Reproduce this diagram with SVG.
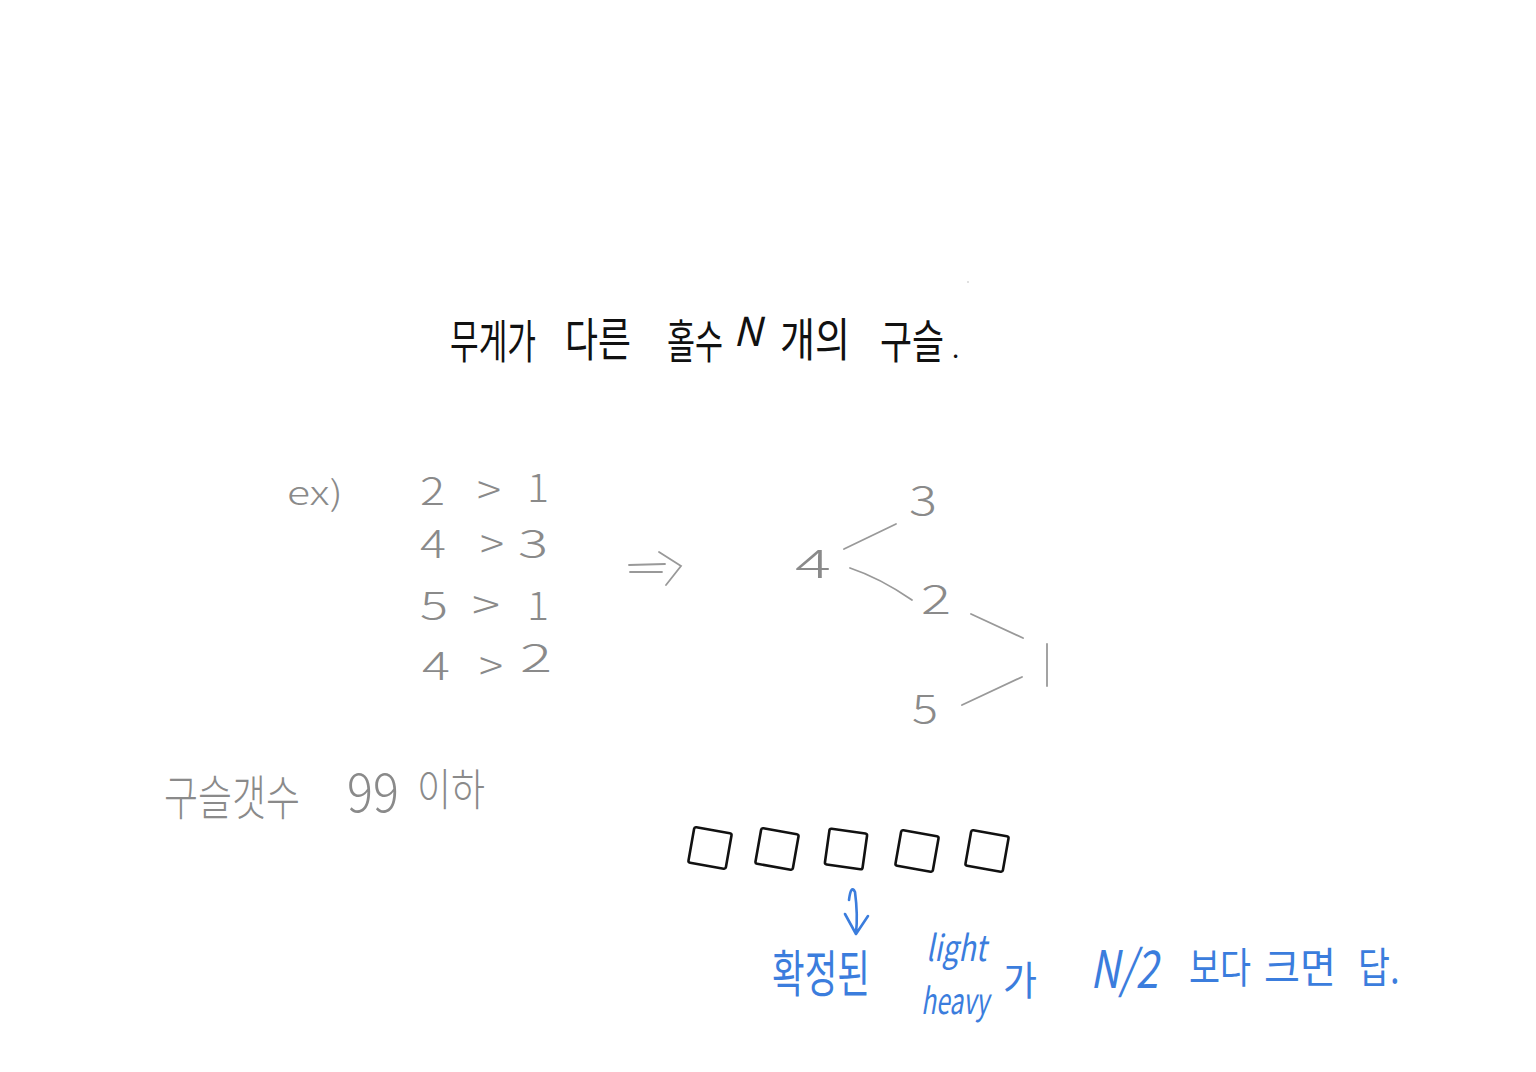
<svg xmlns="http://www.w3.org/2000/svg" width="1536" height="1072" viewBox="0 0 1536 1072">
<style>
.t{font-family:"Noto Sans CJK KR","Noto Sans",sans-serif;}
.ink{fill:#111;}
.pen{fill:#8a8a8a;font-weight:300;}
.blue{fill:#3b7ddd;}
.gt{font-size:42px;}
.it{font-style:italic;}
.ln{fill:none;stroke:#999;stroke-width:1.8;stroke-linecap:round;}
.bx{fill:none;stroke:#111;stroke-width:2.6;stroke-linejoin:round;}
.bl{fill:none;stroke:#3b7ddd;stroke-width:2.6;stroke-linecap:round;stroke-linejoin:round;}
</style>
<rect width="1536" height="1072" fill="#fff"/>
<circle cx="968" cy="282" r="0.8" fill="#bbb"/>
<g id="title" class="t ink" font-size="46">
<text transform="translate(450 358) scale(0.623 1)" textLength="138" lengthAdjust="spacingAndGlyphs">무게가</text>
<text transform="translate(565 356) scale(0.717 1)" textLength="92" lengthAdjust="spacingAndGlyphs">다른</text>
<text transform="translate(667 358) scale(0.609 1)" textLength="92" lengthAdjust="spacingAndGlyphs">홀수</text>
<text class="it" x="733" y="346" font-size="40">N</text>
<text transform="translate(780 356) scale(0.761 1)" textLength="92" lengthAdjust="spacingAndGlyphs">개의</text>
<text transform="translate(880 358) scale(0.696 1)" textLength="92" lengthAdjust="spacingAndGlyphs">구슬</text>
<text x="952" y="358" font-size="26">.</text>
</g>
<g id="ex" class="t pen" font-size="34">
<text x="287" y="505" textLength="56" lengthAdjust="spacingAndGlyphs">ex)</text>
</g>
<g id="list" class="t pen" font-size="38">
<text y="505"><tspan x="420" textLength="25" lengthAdjust="spacingAndGlyphs">2</tspan><tspan class="gt" x="477" y="505" textLength="24" lengthAdjust="spacingAndGlyphs">&gt;</tspan><tspan x="527" y="502" textLength="22" lengthAdjust="spacingAndGlyphs">1</tspan></text>
<text y="558"><tspan x="420" textLength="26" lengthAdjust="spacingAndGlyphs">4</tspan><tspan class="gt" x="480" y="559" textLength="24" lengthAdjust="spacingAndGlyphs">&gt;</tspan><tspan x="518" y="558" textLength="30" lengthAdjust="spacingAndGlyphs">3</tspan></text>
<text y="620"><tspan x="420" textLength="28" lengthAdjust="spacingAndGlyphs">5</tspan><tspan class="gt" x="472" y="620" textLength="28" lengthAdjust="spacingAndGlyphs">&gt;</tspan><tspan x="527" y="620" textLength="22" lengthAdjust="spacingAndGlyphs">1</tspan></text>
<text y="680"><tspan x="422" textLength="28" lengthAdjust="spacingAndGlyphs">4</tspan><tspan class="gt" x="479" y="681" textLength="24" lengthAdjust="spacingAndGlyphs">&gt;</tspan><tspan x="520" y="672" textLength="32" lengthAdjust="spacingAndGlyphs">2</tspan></text>
</g>
<g id="arrow-implies">
<path class="ln" d="M629 565 L665 564 M630 572 L662 572 M659 552 L681 566 L666 585"/>
</g>
<g id="tree" class="t pen" font-size="40">
<text id="n3" x="909" y="515" textLength="28" lengthAdjust="spacingAndGlyphs">3</text>
<text id="n4" x="795" y="578" textLength="36" lengthAdjust="spacingAndGlyphs">4</text>
<text id="n2" x="921" y="614" textLength="30" lengthAdjust="spacingAndGlyphs">2</text>
<text id="n5" x="912" y="723" textLength="26" lengthAdjust="spacingAndGlyphs">5</text>
</g>
<g id="connectors">
<path class="ln" d="M844 549 L896 524"/>
<path class="ln" d="M850 568 Q880 578 912 600"/>
<path class="ln" d="M971 614 L1023 638"/>
<path class="ln" d="M962 705 L1022 677"/>
<path class="ln" d="M1047 644 L1047 686"/>
</g>
<g id="count" class="t pen" font-size="48">
<text transform="translate(164 815) scale(0.708 1)" textLength="192" lengthAdjust="spacingAndGlyphs">구슬갯수</text>
<text transform="translate(347 812) scale(0.85 1)" font-size="54" textLength="61" lengthAdjust="spacingAndGlyphs">99</text>
<text transform="translate(417 806) scale(0.773 1)" font-size="44" textLength="88" lengthAdjust="spacingAndGlyphs">이하</text>
</g>
<g id="boxes">
<rect class="bx" x="-19" y="-18" width="38" height="36" rx="2" transform="translate(710 848) rotate(10)"/>
<rect class="bx" x="-19" y="-18" width="38" height="36" rx="2" transform="translate(777 849) rotate(10)"/>
<rect class="bx" x="-19" y="-18" width="38" height="36" rx="2" transform="translate(846 849) rotate(8)"/>
<rect class="bx" x="-19" y="-18" width="38" height="36" rx="2" transform="translate(917 851) rotate(10)"/>
<rect class="bx" x="-19" y="-18" width="38" height="36" rx="2" transform="translate(987 851) rotate(10)"/>
</g>
<g id="down-arrow">
<path class="bl" d="M849 900 Q851 884 855 892 Q858 915 856 933 M845 914 L856 934 L868 916"/>
</g>
<g id="answer" class="t blue">
<text transform="translate(772 992) scale(0.653 1)" font-size="50" textLength="150" lengthAdjust="spacingAndGlyphs">확정된</text>
<text class="it" transform="translate(926 961) scale(0.85 1)" font-size="36" textLength="71" lengthAdjust="spacingAndGlyphs">light</text>
<text class="it" transform="translate(921 1014) scale(0.73 1)" font-size="36" textLength="93" lengthAdjust="spacingAndGlyphs">heavy</text>
<text transform="translate(1003 995) scale(0.85 1)" font-size="40" textLength="40" lengthAdjust="spacingAndGlyphs">가</text>
<text class="it" transform="translate(1090 988) scale(0.82 1)" font-size="52" textLength="83" lengthAdjust="spacingAndGlyphs">N/2</text>
<text transform="translate(1189 983) scale(0.738 1)" font-size="42" textLength="84" lengthAdjust="spacingAndGlyphs">보다</text>
<text transform="translate(1264 983) scale(0.857 1)" font-size="42" textLength="84" lengthAdjust="spacingAndGlyphs">크면</text>
<text transform="translate(1358 983) scale(0.8 1)" font-size="42" textLength="52" lengthAdjust="spacingAndGlyphs">답.</text>
</g>
</svg>
